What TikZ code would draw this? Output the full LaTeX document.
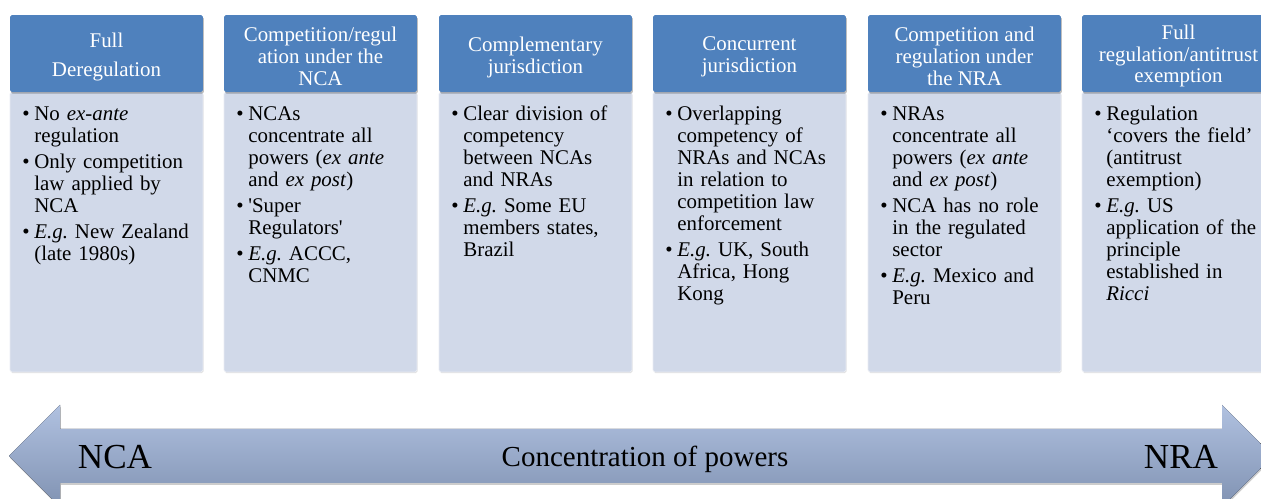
\documentclass[tikz,border=0pt]{standalone}
\usepackage{fontspec}
\setmainfont{Liberation Serif}
\usepackage{xcolor}
\usetikzlibrary{shadows}

\definecolor{hdrblue}{RGB}{79,129,189}
\definecolor{bodyfill}{RGB}{209,217,233}
\definecolor{arrowtop}{RGB}{176,193,224}
\definecolor{arrowbot}{RGB}{128,146,178}

% one bullet point, later lines hang under the text
\newcommand{\bitem}{\par\hangindent=0.24cm\hangafter=1\noindent\makebox[0.24cm][l]{\textbullet}}
% line break inside a bullet point
\newcommand{\br}{\hfil\break}

\begin{document}
\begin{tikzpicture}[x=0.02cm,y=-0.02cm,
  hdr/.style={fill=hdrblue,minimum width=3.86cm,minimum height=1.54cm,
    inner sep=0pt,rounded corners=1pt,
    drop shadow={shadow xshift=0.5pt,shadow yshift=-1pt,opacity=0.25,fill=black}},
  hdrtext/.style={text=white,inner sep=0pt,align=center,font=\fontsize{11.9}{12.5}\selectfont},
  bodybox/.style={fill=bodyfill,draw=white!50!bodyfill,minimum width=3.86cm,
    minimum height=5.6cm,inner sep=0pt,rounded corners=1pt,
    drop shadow={shadow xshift=0.3pt,shadow yshift=-0.6pt,opacity=0.12,fill=black}},
  bodytext/.style={anchor=north west,inner sep=0pt,text width=3.5cm,
    font=\fontsize{11.9}{12.5}\selectfont\frenchspacing\setlength{\parskip}{0.08cm}},
  sidelabel/.style={inner sep=0pt,font=\fontsize{20}{20}\selectfont},
  midlabel/.style={inner sep=0pt,font=\fontsize{16.5}{16.5}\selectfont}]
\useasboundingbox (0,0) rectangle (1261,499);
\clip (0,0) rectangle (1261,499);

%% body boxes
\node[bodybox] (b1) at (106.5,232) {};
\node[bodybox] (b2) at (320.5,232) {};
\node[bodybox] (b3) at (535.5,232) {};
\node[bodybox] (b4) at (749.5,232) {};
\node[bodybox] (b5) at (964.5,232) {};
\node[bodybox] (b6) at (1178.5,232) {};

%% headers
\node[hdr] (h1) at (106.5,53.5) {};
\node[hdr] (h2) at (320.5,53.5) {};
\node[hdr] (h3) at (535.5,53.5) {};
\node[hdr] (h4) at (749.5,53.5) {};
\node[hdr] (h5) at (964.5,53.5) {};
\node[hdr] (h6) at (1178.5,53.5) {};
\node[hdrtext] (l1) at (106.5,57) {Full\\[0.16cm]Deregulation};
\node[hdrtext] (l2) at (320.5,56) {Competition/regul\\ation under the\\NCA};
\node[hdrtext] (l3) at (535.5,57) {Complementary\\jurisdiction};
\node[hdrtext] (l4) at (749.5,57) {Concurrent\\jurisdiction};
\node[hdrtext] (l5) at (964.5,56) {Competition and\\regulation under\\the NRA};
\node[hdrtext] (l6) at (1178.5,56) {Full\\regulation/antitrust\\exemption};

%% bullet texts
\node[bodytext] (t1) at (22,94) {%
  \bitem No \emph{ex-ante}\br regulation
  \bitem Only competition\br law applied by\br NCA
  \bitem \emph{E.g.} New Zealand\br (late 1980s)\par};
\node[bodytext] (t2) at (236,94) {%
  \bitem NCAs\br concentrate all\br powers (\emph{ex ante}\br and \emph{ex post})
  \bitem \textquotesingle Super\br Regulators\textquotesingle
  \bitem \emph{E.g.} ACCC,\br CNMC\par};
\node[bodytext] (t3) at (451,94) {%
  \bitem Clear division of\br competency\br between NCAs\br and NRAs
  \bitem \emph{E.g.} Some EU\br members states,\br Brazil\par};
\node[bodytext] (t4) at (665,94) {%
  \bitem Overlapping\br competency of\br NRAs and NCAs\br in relation to\br competition law\br enforcement
  \bitem \emph{E.g.} UK, South\br Africa, Hong\br Kong\par};
\node[bodytext] (t5) at (880,94) {%
  \bitem NRAs\br concentrate all\br powers (\emph{ex ante}\br and \emph{ex post})
  \bitem NCA has no role\br in the regulated\br sector
  \bitem \emph{E.g.} Mexico and\br Peru\par};
\node[bodytext] (t6) at (1094,94) {%
  \bitem Regulation\br `covers the field'\br (antitrust\br exemption)
  \bitem \emph{E.g.} US\br application of the\br principle\br established in\br \emph{Ricci}\par};

%% double arrow at the bottom
\fill[top color=arrowtop,bottom color=arrowbot,
  drop shadow={shadow xshift=0.5pt,shadow yshift=-1pt,opacity=0.2,fill=black}]
  (9,456) -- (60,405) -- (60,429) -- (1222,429) -- (1222,405) -- (1273,456)
  -- (1222,507) -- (1222,483) -- (60,483) -- (60,507) -- cycle;
\node[sidelabel] (nca) at (115,457) {NCA};
\node[midlabel] (conc) at (645,459) {Concentration of powers};
\node[sidelabel] (nra) at (1181,457) {NRA};
\end{tikzpicture}
\end{document}
